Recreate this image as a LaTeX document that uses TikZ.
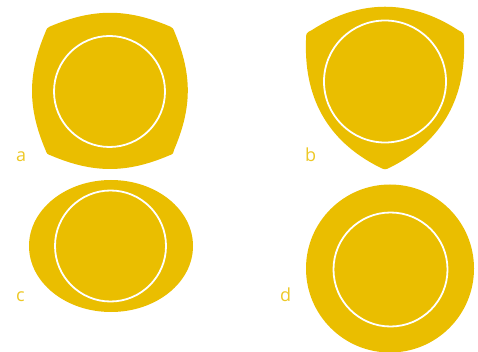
\documentclass[tikz,border=0pt]{standalone}
\usepackage{fontspec}
\setsansfont{Open Sans}
\definecolor{plate}{HTML}{EABE00}
\tikzset{
  plate/.style={fill=plate, draw=none},
  rim/.style={draw=white, line width=1.8pt},
  tag/.style={text=plate!85!white, font=\sffamily\fontsize{18}{18}\selectfont, inner sep=0pt, anchor=base west},
}
\begin{document}
\begin{tikzpicture}[x=1pt, y=-1pt]
\useasboundingbox (0,0) rectangle (478,352);

% a: square plate with bulging sides
\fill[plate] (50,26.5) to[bend left=23] (170,26.5) .. controls (173,28) .. (174.5,32)
  to[bend left=23] (174,150) .. controls (173,154) .. (169,155.5)
  to[bend left=23] (51,155.5) .. controls (47,154) .. (45.5,150)
  to[bend left=23] (45.5,32) .. controls (47,28) .. cycle;
\draw[rim] (109.5,91.5) circle[radius=55.5];
\node[tag] (la) at (16,162) {a};

% b: triangular plate
\fill[plate] (312,30) to[bend left=33] (458,30) .. controls (464,33) .. (464,40)
  .. controls (466,95) and (445,140) .. (390,167.5) .. controls (385,169.9) .. (380,167.5)
  .. controls (325,140) and (304,95) .. (306,40) .. controls (306,33) .. cycle;
\draw[rim] (385,81.5) circle[radius=61];
\node[tag] (lb) at (305,162) {b};

% c: oval plate
\fill[plate] (111,246) ellipse[x radius=82, y radius=66];
\draw[rim] (110.5,246) circle[radius=55.5];
\node[tag] (lc) at (16,301) {c};

% d: round plate
\fill[plate] (390,268.5) circle[radius=84];
\draw[rim] (390.5,269.5) circle[radius=57];
\node[tag] (ld) at (280,301) {d};
\end{tikzpicture}
\end{document}
